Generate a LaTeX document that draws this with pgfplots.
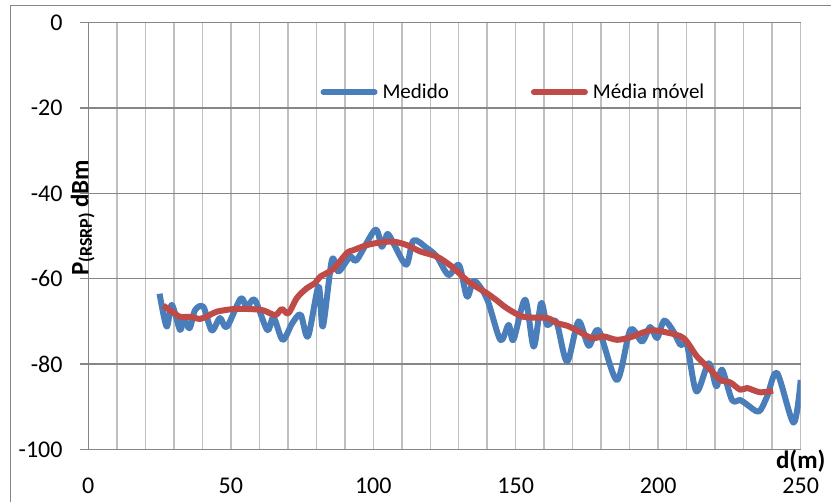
\documentclass[border=0pt]{standalone}
\usepackage{pgfplots}
\pgfplotsset{compat=1.18}
\usepackage{fontspec}
\setmainfont{Carlito}

\definecolor{medblue}{RGB}{74,126,187}
\definecolor{movred}{RGB}{190,75,72}
\definecolor{gridlight}{RGB}{191,191,191}
\definecolor{griddark}{RGB}{134,134,134}

\begin{document}
\begin{tikzpicture}
% page area and outer chart frame
\useasboundingbox (0pt,0pt) rectangle (831pt,-502pt);
\draw[griddark, line width=1pt] (10pt,-6pt) rectangle (900pt,-600pt);

\begin{axis}[
  at={(88.3pt,-449.5pt)}, anchor=south west,
  scale only axis, width=712.4pt, height=426.8pt,
  xmin=0, xmax=250, ymin=-100, ymax=0,
  axis x line*=bottom, axis y line*=left,
  x axis line style={draw=none},
  y axis line style={draw=griddark, line width=1.3pt, -},
  xtick={0,50,...,250}, ytick={-100,-80,...,0},
  minor xtick={0,10,...,250},
  xmajorgrids=false, xminorgrids=true, ymajorgrids=true,
  major grid style={draw=griddark, line width=1.3pt},
  minor grid style={draw=gridlight, line width=1.5pt},
  xtick style={draw=none}, minor tick length=0pt,
  ytick style={draw=griddark, line width=1.3pt},
  tick align=outside, major tick length=8pt,
  /pgf/number format/assume math mode=true,
  ticklabel style={font=\fontsize{24}{24}\selectfont, inner sep=0pt},
  yticklabel style={anchor=east, xshift=-17.6pt},
  xticklabel style={anchor=north, yshift=-20pt},
  xlabel={\bfseries d(m)},
  ylabel={\bfseries P\raisebox{-0.3ex}{\fontsize{18}{18}\selectfont(RSRP)} dBm},
  every axis x label/.style={at={(axis cs:250,-100)}, anchor=center, yshift=-11.5pt,
    font=\fontsize{25}{25}\selectfont},
  every axis y label/.style={at={(axis cs:0,-45)}, rotate=90, anchor=base, xshift=-3pt,
    font=\fontsize{25}{25}\selectfont},
  legend columns=2,
  legend style={at={(axis cs:81.5,-16.3)}, anchor=west, draw=none, fill=none,
    inner sep=0pt, outer sep=0pt, font=\fontsize{21}{21}\selectfont,
    nodes={inner sep=0pt},
    /tikz/every odd column/.append style={column sep=5pt},
    /tikz/every even column/.append style={column sep=82pt}},
  legend cell align=left,
  legend image code/.code={\draw[#1, line cap=round] (0pt,0pt) -- (51pt,0pt);},
]

% measured received power
\addplot[medblue, line width=6pt, smooth, line join=round] coordinates {
(25.0,-63.5) (27.5,-71.2) (29.3,-66.1) (32.2,-72.0) (33.4,-69.2) (35.5,-71.6)
(37.5,-67.3) (40.4,-66.6) (43.3,-72.1) (46.2,-69.2) (48.6,-71.3) (53.5,-64.6)
(55.6,-66.7) (58.4,-64.9) (62.8,-72.0) (65.0,-69.0) (68.2,-74.3) (71.5,-70.5)
(74.5,-68.4) (77.1,-73.5) (80.8,-61.8) (82.3,-71.2) (85.5,-55.6) (87.8,-58.3)
(91.9,-54.8) (94.2,-55.6) (100.7,-48.5) (103.0,-52.5) (105.0,-49.5) (107.1,-51.7)
(111.6,-56.7) (114.1,-51.0) (118.8,-52.8) (122.3,-54.8) (126.4,-59.1) (130.1,-56.8)
(132.9,-64.2) (135.4,-60.5) (139.9,-64.7) (144.6,-74.3) (147.5,-70.8) (149.2,-74.3)
(153.3,-64.9) (156.3,-75.9) (158.9,-65.7) (161.0,-70.8) (164.2,-70.0) (168.0,-79.4)
(172.0,-70.0) (175.6,-75.7) (179.1,-72.1) (185.5,-83.7) (190.2,-72.0) (194.3,-74.7)
(197.2,-71.3) (199.6,-73.9) (202.1,-69.8) (205.4,-72.4) (207.8,-75.5) (210.1,-75.5)
(213.4,-86.4) (217.7,-79.8) (220.4,-85.2) (222.4,-81.3) (225.9,-88.4) (228.8,-88.4)
(231.2,-89.5) (235.3,-91.1) (238.2,-87.6) (241.7,-82.1) (247.5,-93.7) (250.0,-83.7)
};
\addlegendentry{Medido}

% moving average
\addplot[movred, line width=6pt, smooth, line join=round] coordinates {
(26.3,-66.3) (29.0,-67.5) (32.2,-68.9) (35.7,-68.9) (39.2,-69.4) (42.0,-68.7)
(45.1,-67.7) (50.9,-67.1) (56.8,-67.1) (61.4,-67.4) (65.6,-68.5) (67.9,-67.1)
(70.2,-68.1) (73.2,-64.5) (76.7,-62.2) (79.6,-61.0) (81.4,-59.5) (86.0,-57.7)
(90.7,-54.0) (93.0,-53.3) (97.8,-52.1) (102.4,-51.5) (107.1,-51.3) (111.8,-52.1)
(116.5,-53.6) (122.3,-54.8) (127.5,-57.1) (133.5,-60.7) (139.9,-63.4) (143.4,-65.1)
(146.9,-66.9) (152.7,-68.9) (161.0,-69.2) (164.5,-70.4) (168.0,-71.0) (171.5,-72.1)
(176.7,-73.9) (180.8,-73.5) (185.5,-74.3) (190.2,-73.7) (197.2,-72.1) (203.1,-72.6)
(208.9,-73.9) (213.6,-78.2) (218.3,-81.3) (221.8,-83.7) (225.3,-84.3) (228.8,-86.0)
(231.2,-85.6) (235.8,-86.6) (240.3,-86.2)
};
\addlegendentry{Média móvel}

\end{axis}
\end{tikzpicture}
\end{document}
